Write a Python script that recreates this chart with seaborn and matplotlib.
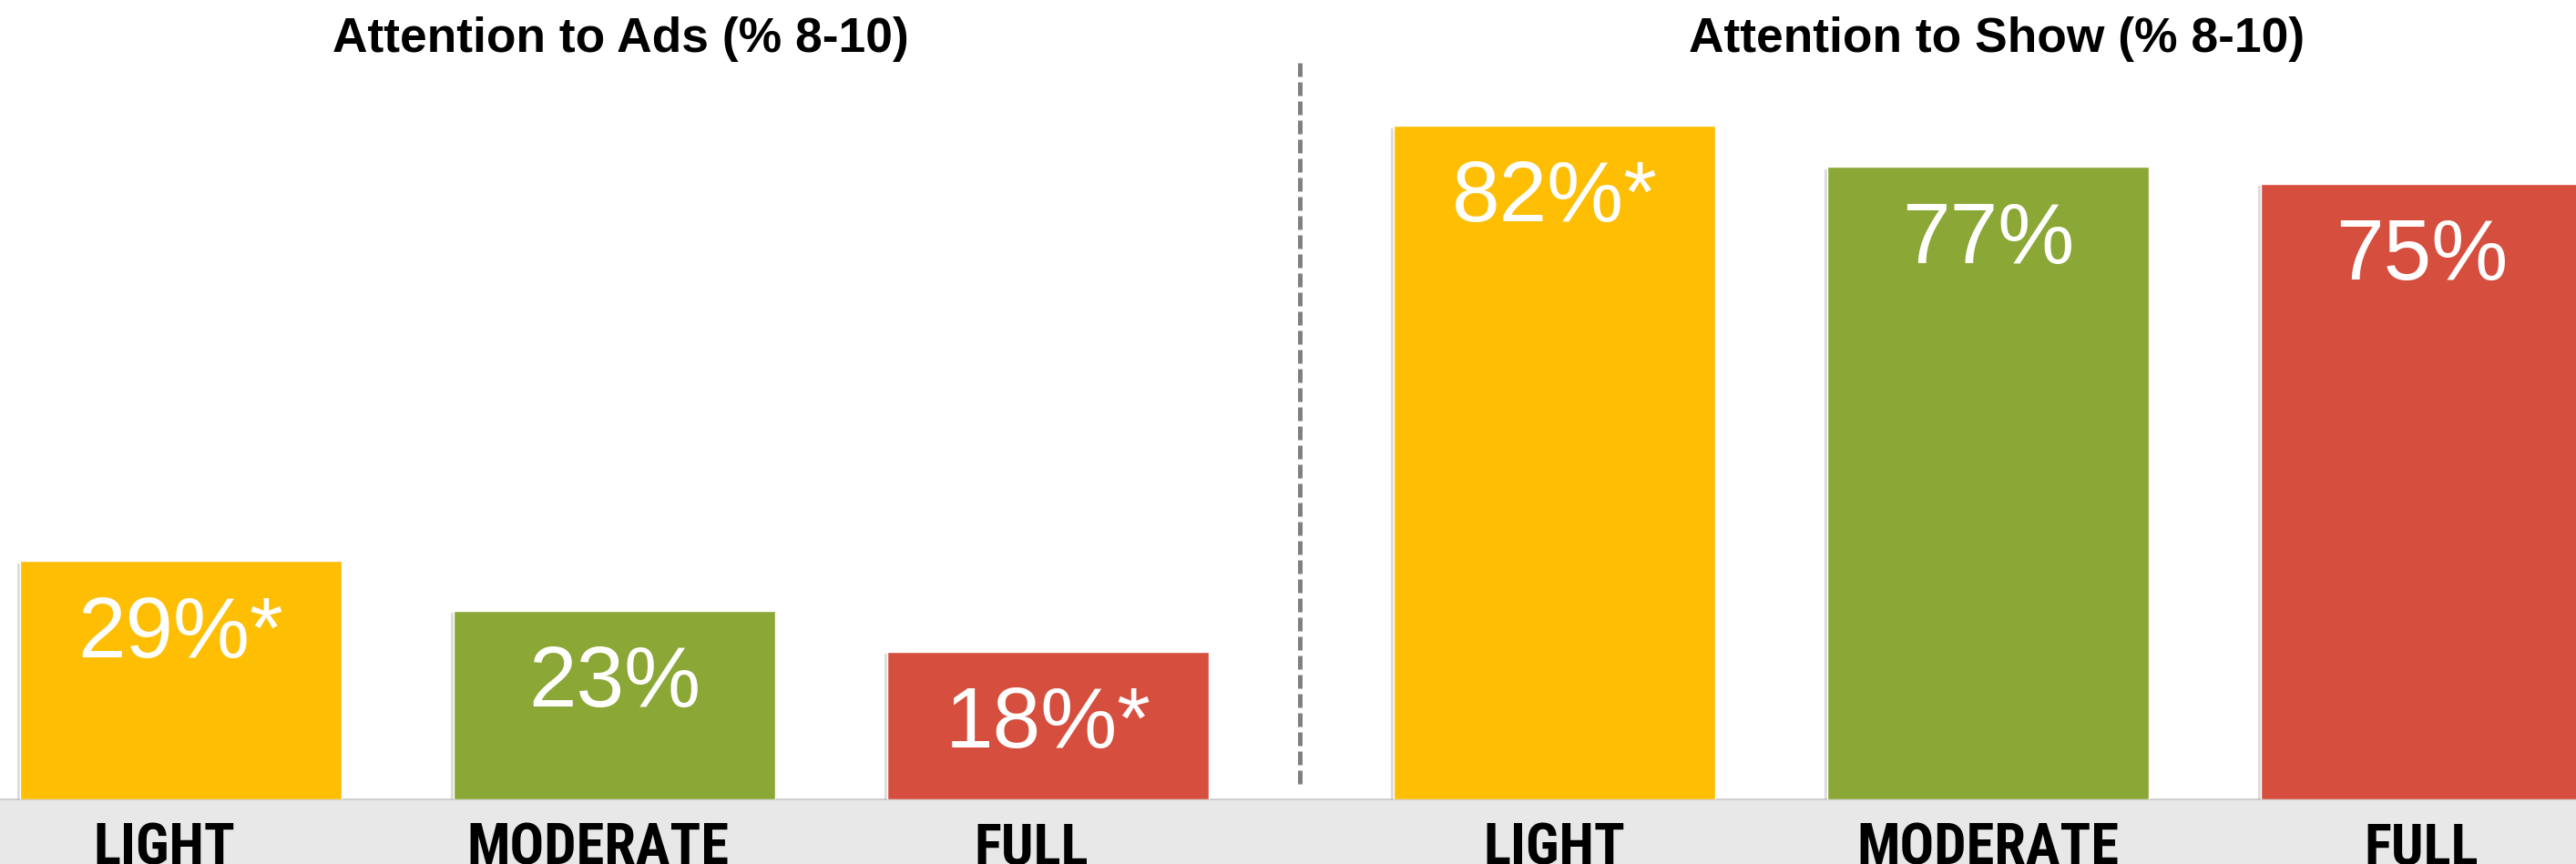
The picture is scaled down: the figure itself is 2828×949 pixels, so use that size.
import matplotlib
matplotlib.use("Agg")
import matplotlib.pyplot as plt
import matplotlib.font_manager as fm
import matplotlib.patheffects as pe
import matplotlib.transforms as mtransforms
from matplotlib.lines import Line2D
from matplotlib.patches import Rectangle
import pandas as pd
import seaborn as sns

# Data
categories = ["LIGHT", "MODERATE", "FULL"]
ads_values = [29, 23, 18]
ads_sig = [True, False, True]
show_values = [82, 77, 75]
show_sig = [True, False, False]
titles = ["Attention to Ads (% 8-10)", "Attention to Show (% 8-10)"]
bar_colors = ["#FDBE04", "#8BA736", "#D64F3E"]

sns.set_style("white")
plt.rcParams["font.family"] = ["Liberation Sans", "DejaVu Sans"]

# narrow bold font for the category labels if one is installed
installed = {f.name for f in fm.fontManager.ttflist}
tick_font = {"family": ["Liberation Sans"], "size": 38.5}
for name in ["Liberation Sans Narrow", "Arial Narrow", "Roboto Condensed"]:
    if name in installed:
        tick_font = {"family": [name], "size": 45}
        break

W, H = 2828, 949
fig = plt.figure(figsize=(W / 100, H / 100), dpi=100)

# grey floor band at the bottom (behind the axes so tick labels show)
band_h = 71
fig.patches.append(Rectangle((0, 0), 1, band_h / H, transform=fig.transFigure,
                             facecolor="#E8E8E8", edgecolor="none", zorder=-2))
band_line = Line2D([0, 1], [band_h / H, band_h / H], transform=fig.transFigure,
                   color="#C8C8C8", lw=1.2, zorder=-1)
fig.lines.append(band_line)

px_per_pct = 9.02
ymax = (H - band_h) / px_per_pct
step = 476

# values, flags, axes left px, axes width px, first bar centre px, title centre px, label shift px
panels = [
    (ads_values, ads_sig, 0, 1400, 198.5, 681, -18),
    (show_values, show_sig, 1450, W - 1450, 1706.5, 2192, 0),
]
for k, (vals, sig, left, width, first_center, title_x, shift) in enumerate(panels):
    ax = fig.add_axes([left / W, band_h / H, width / W, (H - band_h) / H])
    ax.patch.set_alpha(0)
    df = pd.DataFrame({"group": categories, "pct": vals})
    sns.barplot(data=df, x="group", y="pct", hue="group", palette=bar_colors,
                saturation=1, width=353 / step, legend=False, ax=ax)
    for bar in ax.patches:
        bar.set_path_effects([pe.SimplePatchShadow(offset=(-2, -2), shadow_rgbFace="#999999", alpha=0.35),
                              pe.Normal()])
    ax.set_xlim((left - first_center) / step, (left + width - first_center) / step)
    ax.set_ylim(0, ymax)
    ax.set_xlabel("")
    ax.set_ylabel("")
    ax.set_yticks([])
    ax.set_xticks(range(len(categories)))
    ax.set_xticklabels(categories, fontweight="bold", color="black", **tick_font)
    ax.tick_params(axis="x", length=0, pad=18)
    if shift:
        offset = mtransforms.ScaledTranslation(shift / 100, 0, fig.dpi_scale_trans)
        for lab in ax.get_xticklabels():
            lab.set_transform(lab.get_transform() + offset)
    sns.despine(ax=ax, left=True, bottom=True)

    for i, (v, s) in enumerate(zip(vals, sig)):
        label = f"{v}%" + ("*" if s else "")
        ax.annotate(label, (i, v), xytext=(0, -26), textcoords="offset points",
                    ha="center", va="top", color="white", fontsize=68)

    fig.text(title_x / W, 1 - 57 / H, titles[k], ha="center", va="baseline",
             fontsize=38.4, fontweight="bold", color="black")

# dashed divider between the panels
fig.add_artist(Line2D([1427 / W, 1427 / W], [1 - 69 / H, 1 - 861 / H], color="#808080",
                      lw=3.6, linestyle=(0, (3, 1.2))))

fig.savefig("out.png", dpi=100)
